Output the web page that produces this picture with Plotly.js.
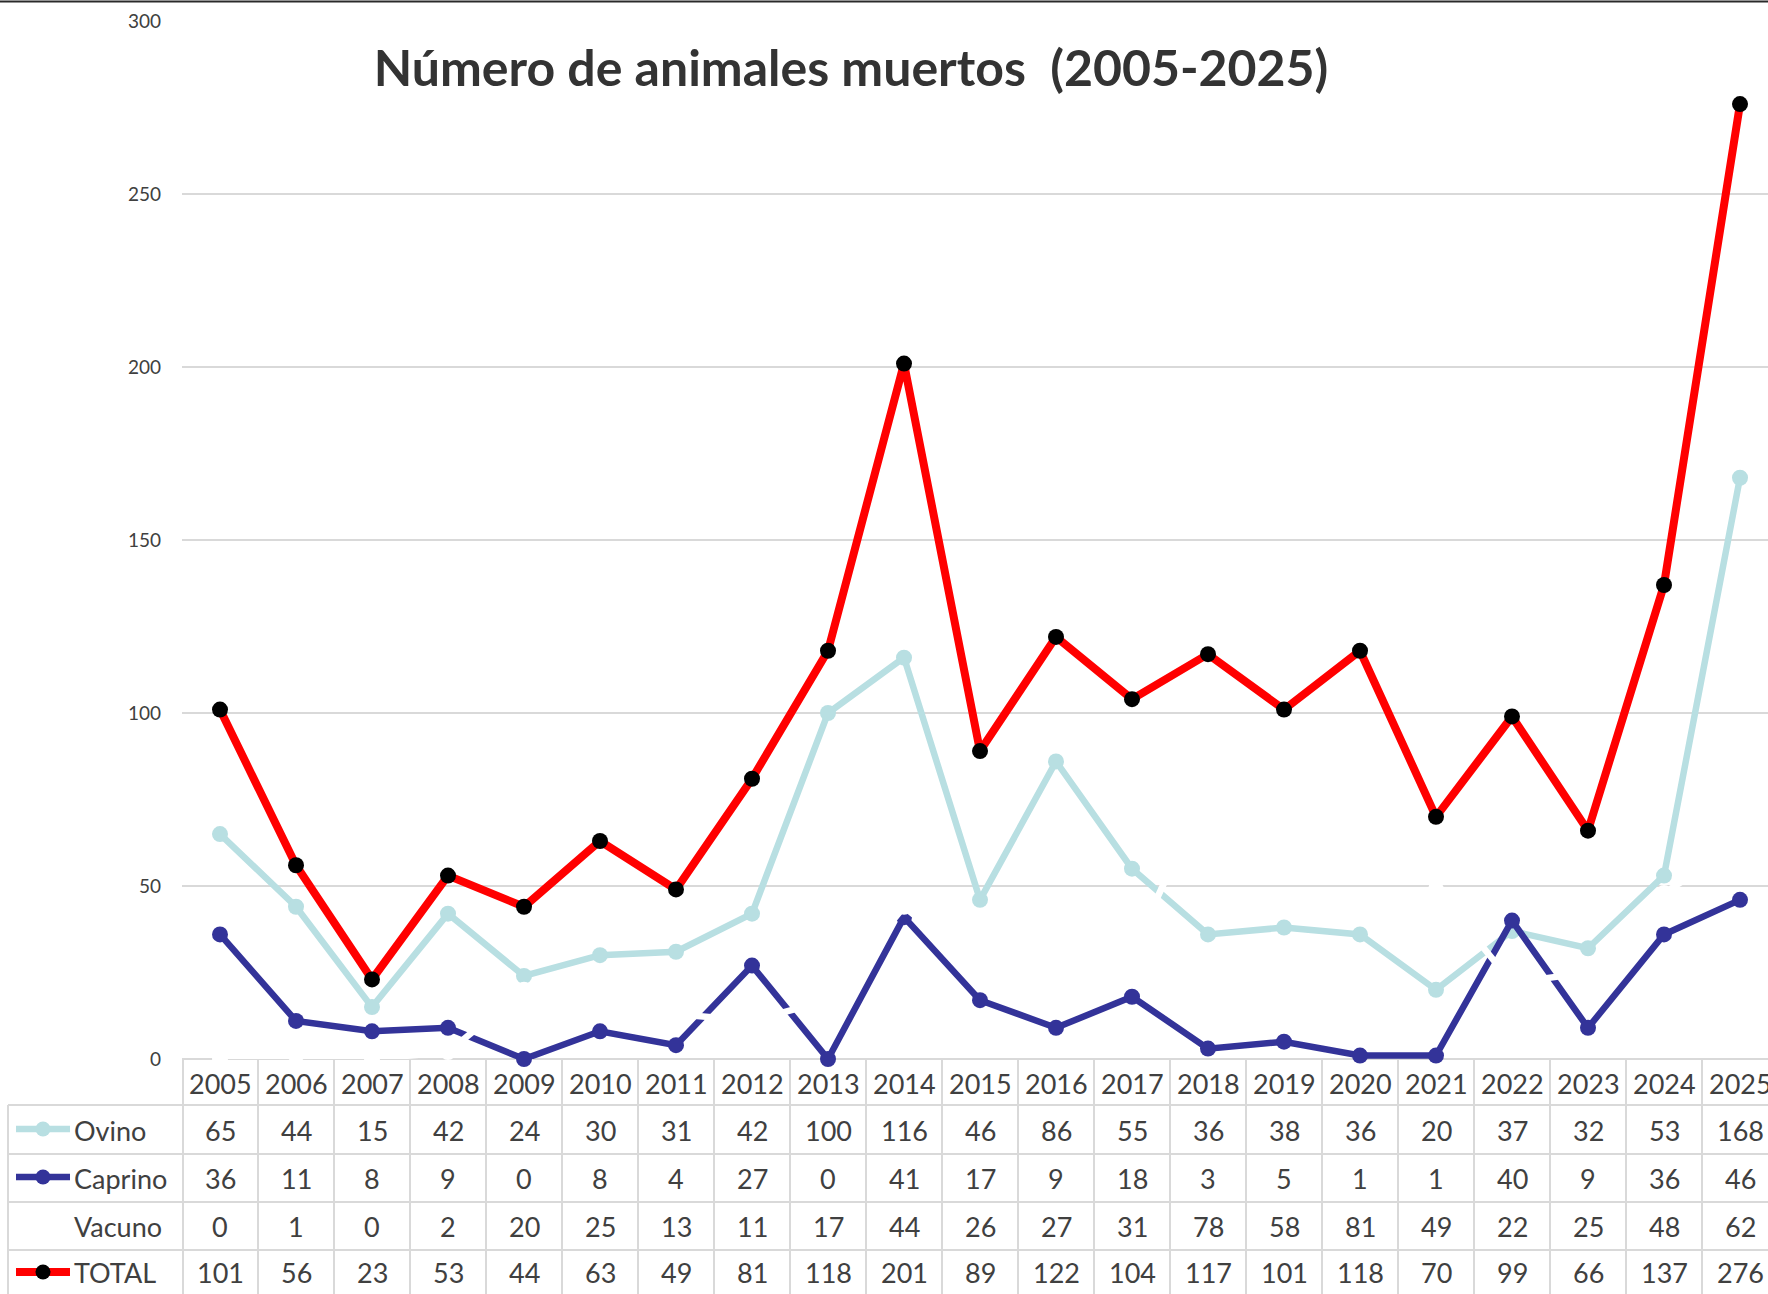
<!DOCTYPE html>
<html><head><meta charset="utf-8">
<script src="https://cdn.plot.ly/plotly-3.0.1.min.js"></script>
<style>html,body{margin:0;padding:0;background:#fff;overflow:hidden}#chart{width:1768px;height:1294px}</style>
</head><body><div id="chart"></div>
<script>
const years = ['2005','2006','2007','2008','2009','2010','2011','2012','2013','2014','2015','2016','2017','2018','2019','2020','2021','2022','2023','2024','2025'];
const ovino   = [65,44,15,42,24,30,31,42,100,116,46,86,55,36,38,36,20,37,32,53,168];
const caprino = [36,11,8,9,0,8,4,27,0,41,17,9,18,3,5,1,1,40,9,36,46];
const vacuno  = [0,1,0,2,20,25,13,11,17,44,26,27,31,78,58,81,49,22,25,48,62];
const total   = [101,56,23,53,44,63,49,81,118,201,89,122,104,117,101,118,70,99,66,137,276];
const seriesNames = ['Ovino','Caprino','Vacuno','TOTAL'];
const yTicks = [0,50,100,150,200,250,300];
const chartTitle = 'Número de animales muertos  (2005-2025)';

// ---- styling / layout ----
const W = 1768, H = 1294;
const L = 182, T = 21, B = 1059;          // plot area pixel edges
const colW = 76;
const plotW = W - L, plotH = B - T;
const px2x = p => (p - L) / plotW;
const py2y = p => (B - p) / plotH;
const textCol = '#404040';
const gridCol = '#d9d9d9';
const fam = 'Lato, "Open Sans", sans-serif';

const styles = {
  Ovino:   {line:'#b8dfe2', lw:6.5, mk:'#b8dfe2', ms:16},
  Caprino: {line:'#333399', lw:6.5, mk:'#333399', ms:16},
  Vacuno:  {line:'#ffffff', lw:6.5, mk:'#ffffff', ms:16},
  TOTAL:   {line:'#ff0000', lw:8, mk:'#000000', ms:16}
};
const values = {Ovino:ovino, Caprino:caprino, Vacuno:vacuno, TOTAL:total};

const traces = seriesNames.map(n => ({
  type:'scatter', mode:'lines+markers', name:n, x:years, y:values[n],
  line:{color:styles[n].line, width:styles[n].lw},
  marker:{color:styles[n].mk, size:styles[n].ms},
  cliponaxis:false, hoverinfo:'skip', showlegend:false
}));

// table geometry (pixels)
const headTop = B, headBot = 1105;
const firstColL = 8;
const shapes = [];
const annotations = [];

// top border of image
shapes.push({type:'line', xref:'paper', yref:'paper', x0:px2x(0), x1:px2x(W), y0:py2y(1.5), y1:py2y(1.5), line:{color:'#2a2a2a', width:2}});

// vertical lines of table
shapes.push({type:'line', xref:'paper', yref:'paper', x0:px2x(L+1), x1:px2x(L+1), y0:py2y(headTop), y1:py2y(1300), line:{color:gridCol, width:2}});
for (let i = 1; i <= years.length; i++) {
  shapes.push({type:'line', xref:'x', yref:'paper', x0:i-0.5, x1:i-0.5, y0:py2y(headTop), y1:py2y(1300), line:{color:gridCol, width:2}});
}
shapes.push({type:'line', xref:'paper', yref:'paper', x0:px2x(firstColL), x1:px2x(firstColL), y0:py2y(headBot), y1:py2y(1300), line:{color:gridCol, width:2}});
// horizontal lines
[1105, 1154, 1202, 1250].forEach(p => {
  shapes.push({type:'line', xref:'paper', yref:'paper', x0:px2x(firstColL), x1:px2x(W), y0:py2y(p), y1:py2y(p), line:{color:gridCol, width:2}});
});

const tfont = {family:fam, size:27, color:textCol};
// header years (x given as category index)
years.forEach((yr, i) => annotations.push({xref:'x', yref:'paper', x:i, y:py2y((headTop+headBot)/2 + 1), text:yr, showarrow:false, font:tfont, xanchor:'center', yanchor:'middle'}));
// rows
const rowCenters = [1130, 1178, 1226, 1273];
seriesNames.forEach((n, r) => {
  const yc = py2y(rowCenters[r]);
  annotations.push({xref:'paper', yref:'paper', x:px2x(72), y:yc, text:n, showarrow:false, font:tfont, xanchor:'left', yanchor:'middle'});
  values[n].forEach((v, i) => annotations.push({xref:'x', yref:'paper', x:i, y:yc, text:String(v), showarrow:false, font:tfont, xanchor:'center', yanchor:'middle'}));
  // legend key
  const kc = rowCenters[r] - 1;
  const st = styles[n];
  shapes.push({type:'line', xref:'paper', yref:'paper', x0:px2x(16), x1:px2x(70), y0:py2y(kc), y1:py2y(kc), line:{color:st.line, width:st.lw}});
  const rad = 7.5;
  shapes.push({type:'circle', xref:'paper', yref:'paper', x0:px2x(43-rad), x1:px2x(43+rad), y0:py2y(kc+rad), y1:py2y(kc-rad), fillcolor:st.mk, line:{width:0}});
});

const layout = {
  width:W, height:H,
  margin:{l:L, r:0, t:T, b:H-B, pad:0},
  paper_bgcolor:'#ffffff', plot_bgcolor:'#ffffff',
  title:{text:'<b>'+chartTitle+'</b>', font:{family:fam, size:50, color:'#333333'}, xref:'container', yref:'container', x:851/W, xanchor:'center', y:1-68/H, yanchor:'middle'},
  xaxis:{type:'category', range:[-0.5, -0.5 + plotW/colW], showgrid:false, zeroline:false, showticklabels:false, showline:false, ticks:'', fixedrange:true},
  yaxis:{range:[0,300], tickvals:yTicks, ticktext:yTicks.map(String), showgrid:true, gridcolor:gridCol, gridwidth:2, zeroline:true, zerolinecolor:gridCol, zerolinewidth:2, showline:false, ticks:'', ticklabelstandoff:20, tickfont:{family:fam, size:19, color:textCol}, fixedrange:true},
  shapes:shapes, annotations:annotations, showlegend:false
};
Plotly.newPlot('chart', traces, layout, {displayModeBar:false, staticPlot:true});
</script></body></html>
